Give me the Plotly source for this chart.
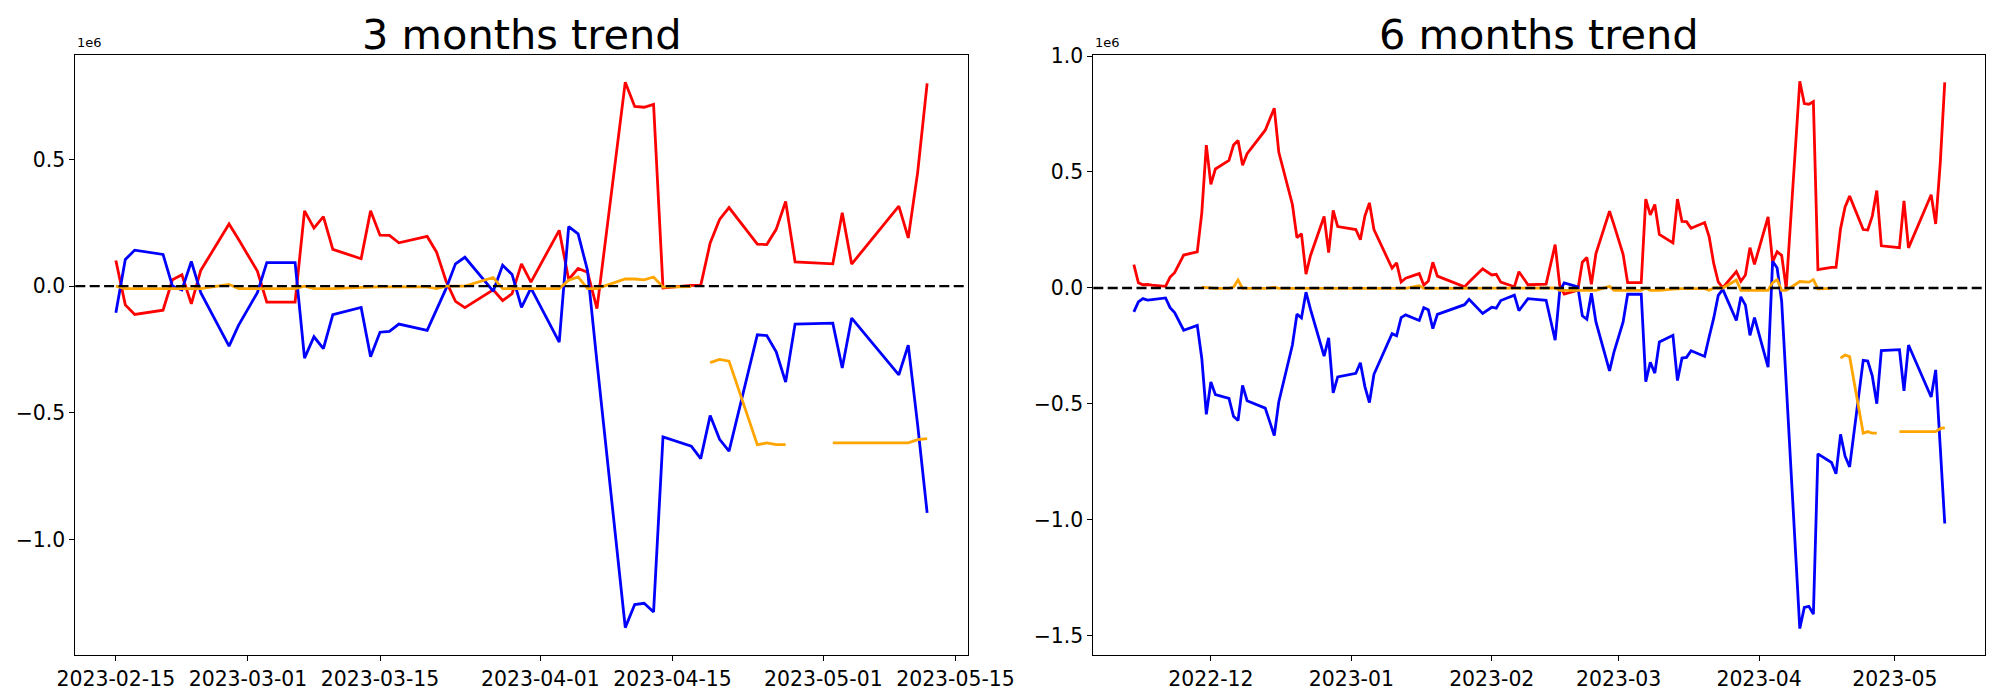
import plotly.graph_objects as go

# ---------------- data (values in units of 1e6) ----------------
dates_3m = ["2023-02-15", "2023-02-16", "2023-02-17", "2023-02-20", "2023-02-21", "2023-02-22", "2023-02-23", "2023-02-24",
            "2023-02-27", "2023-02-28",
            "2023-03-02", "2023-03-03",
            "2023-03-06", "2023-03-07", "2023-03-08", "2023-03-09", "2023-03-10",
            "2023-03-13", "2023-03-14", "2023-03-15", "2023-03-16", "2023-03-17",
            "2023-03-20", "2023-03-21", "2023-03-22", "2023-03-23", "2023-03-24",
            "2023-03-27", "2023-03-28", "2023-03-29", "2023-03-30", "2023-03-31",
            "2023-04-03", "2023-04-04", "2023-04-05", "2023-04-06", "2023-04-07",
            "2023-04-10", "2023-04-11", "2023-04-12", "2023-04-13", "2023-04-14",
            "2023-04-17", "2023-04-18", "2023-04-19", "2023-04-20", "2023-04-21",
            "2023-04-24", "2023-04-25", "2023-04-26", "2023-04-27", "2023-04-28",
            "2023-05-02", "2023-05-03", "2023-05-04",
            "2023-05-09", "2023-05-10", "2023-05-11", "2023-05-12"]

red_3m = [0.101, -0.074, -0.112, -0.095, 0.025, 0.045, -0.070, 0.062,
          0.245, 0.185,
          0.059, -0.063,
          -0.063, 0.297, 0.229, 0.274, 0.145,
          0.108, 0.297, 0.201, 0.200, 0.171,
          0.196, 0.134, 0.020, -0.060, -0.085,
          -0.015, -0.057, -0.030, 0.088, 0.016,
          0.220, 0.026, 0.070, 0.055, -0.089,
          0.805, 0.709, 0.706, 0.717, -0.007,
          0.003, 0.003, 0.170, 0.263, 0.310,
          0.166, 0.164, 0.224, 0.334, 0.096,
          0.088, 0.290, 0.087,
          0.316, 0.190, 0.450, 0.800]

blue_3m = [-0.105, 0.105, 0.142, 0.125, 0.000, -0.015, 0.097, -0.026,
           -0.237, -0.155,
           -0.026, 0.093,
           0.093, -0.284, -0.200, -0.247, -0.113,
           -0.084, -0.279, -0.182, -0.179, -0.150,
           -0.175, -0.090, -0.010, 0.088, 0.114,
           -0.020, 0.082, 0.046, -0.084, -0.008,
           -0.221, 0.235, 0.206, 0.062, -0.300,
           -1.348, -1.257, -1.252, -1.286, -0.595,
           -0.632, -0.681, -0.511, -0.605, -0.651,
           -0.192, -0.195, -0.259, -0.379, -0.150,
           -0.146, -0.323, -0.126,
           -0.350, -0.233, -0.550, -0.895]

orange_3m = [0.000, -0.010, -0.010, -0.010, -0.010, -0.010, -0.010, -0.010,
             0.007, -0.010,
             -0.010, -0.010,
             -0.010, 0.000, -0.010, -0.010, -0.010,
             -0.005, -0.003, -0.003, -0.003, -0.003,
             -0.003, -0.010, 0.000, 0.000, 0.000,
             0.034, -0.010, -0.010, -0.010, -0.010,
             -0.010, 0.023, 0.036, -0.010, -0.010,
             0.028, 0.028, 0.025, 0.036, -0.004,
             -0.002, None, -0.302, -0.289, -0.296,
             -0.626, -0.619, -0.626, -0.626, None,
             -0.619, -0.619, -0.619,
             -0.619, -0.619, -0.606, -0.602]

dates_6m = ["2022-11-14", "2022-11-15", "2022-11-16", "2022-11-17", "2022-11-18", "2022-11-21", "2022-11-22", "2022-11-23",
            "2022-11-25", "2022-11-28", "2022-11-29", "2022-11-30", "2022-12-01", "2022-12-02", "2022-12-05", "2022-12-06",
            "2022-12-07", "2022-12-08", "2022-12-09", "2022-12-13", "2022-12-15", "2022-12-16", "2022-12-19", "2022-12-20",
            "2022-12-21", "2022-12-22", "2022-12-23", "2022-12-26", "2022-12-27", "2022-12-28", "2022-12-29", "2023-01-02",
            "2023-01-03", "2023-01-04", "2023-01-05", "2023-01-06", "2023-01-10", "2023-01-11", "2023-01-12", "2023-01-13",
            "2023-01-16", "2023-01-17", "2023-01-18", "2023-01-19", "2023-01-20", "2023-01-26", "2023-01-27", "2023-01-30",
            "2023-02-01", "2023-02-02", "2023-02-03", "2023-02-06", "2023-02-07", "2023-02-09", "2023-02-13",
            "2023-02-15", "2023-02-16", "2023-02-17", "2023-02-20", "2023-02-21", "2023-02-22", "2023-02-23", "2023-02-24",
            "2023-02-27", "2023-02-28",
            "2023-03-02", "2023-03-03",
            "2023-03-06", "2023-03-07", "2023-03-08", "2023-03-09", "2023-03-10",
            "2023-03-13", "2023-03-14", "2023-03-15", "2023-03-16", "2023-03-17",
            "2023-03-20", "2023-03-21", "2023-03-22", "2023-03-23", "2023-03-24",
            "2023-03-27", "2023-03-28", "2023-03-29", "2023-03-30", "2023-03-31",
            "2023-04-03", "2023-04-04", "2023-04-05", "2023-04-06", "2023-04-07",
            "2023-04-10", "2023-04-11", "2023-04-12", "2023-04-13", "2023-04-14",
            "2023-04-17", "2023-04-18", "2023-04-19", "2023-04-20", "2023-04-21",
            "2023-04-24", "2023-04-25", "2023-04-26", "2023-04-27", "2023-04-28",
            "2023-05-02", "2023-05-03", "2023-05-04",
            "2023-05-09", "2023-05-10", "2023-05-11", "2023-05-12"]

red_6m = [0.101, 0.023, 0.014, 0.015, 0.012, 0.007, 0.047, 0.066,
          0.142, 0.156, 0.324, 0.616, 0.447, 0.513, 0.550, 0.616,
          0.636, 0.529, 0.579, 0.680, 0.775, 0.585, 0.360, 0.217,
          0.234, 0.060, 0.140, 0.308, 0.153, 0.334, 0.265, 0.252,
          0.208, 0.310, 0.367, 0.252, 0.085, 0.108, 0.026, 0.042,
          0.062, 0.012, 0.030, 0.111, 0.051, 0.005, 0.026, 0.083,
          0.056, 0.059, 0.025, 0.005, 0.070, 0.014, 0.017,
          0.187, 0.012, -0.026, -0.009, 0.111, 0.131, 0.016, 0.148,
          0.331, 0.271,
          0.145, 0.023,
          0.023, 0.383, 0.315, 0.360, 0.231,
          0.194, 0.383, 0.287, 0.286, 0.257,
          0.282, 0.220, 0.106, 0.026, 0.001,
          0.071, 0.029, 0.056, 0.174, 0.102,
          0.306, 0.112, 0.156, 0.141, -0.003,
          0.891, 0.795, 0.792, 0.803, 0.079,
          0.089, 0.089, 0.256, 0.349, 0.396,
          0.252, 0.250, 0.310, 0.420, 0.182,
          0.174, 0.376, 0.173,
          0.402, 0.276, 0.536, 0.886]

blue_6m = [-0.103, -0.060, -0.046, -0.052, -0.050, -0.043, -0.085, -0.106,
           -0.182, -0.161, -0.304, -0.545, -0.405, -0.460, -0.476, -0.553,
           -0.571, -0.420, -0.486, -0.518, -0.636, -0.490, -0.246, -0.113,
           -0.129, -0.018, -0.092, -0.294, -0.215, -0.452, -0.383, -0.368,
           -0.322, -0.425, -0.494, -0.372, -0.197, -0.206, -0.128, -0.116,
           -0.140, -0.085, -0.094, -0.175, -0.114, -0.072, -0.049, -0.110,
           -0.083, -0.087, -0.054, -0.031, -0.098, -0.046, -0.053,
           -0.225, -0.015, 0.022, 0.005, -0.120, -0.135, -0.023, -0.146,
           -0.357, -0.275,
           -0.146, -0.027,
           -0.027, -0.404, -0.320, -0.367, -0.233,
           -0.204, -0.399, -0.302, -0.299, -0.270,
           -0.295, -0.210, -0.130, -0.032, -0.006,
           -0.140, -0.038, -0.074, -0.204, -0.128,
           -0.341, 0.115, 0.086, -0.058, -0.420,
           -1.468, -1.377, -1.372, -1.406, -0.715,
           -0.752, -0.801, -0.631, -0.725, -0.771,
           -0.312, -0.315, -0.379, -0.499, -0.270,
           -0.266, -0.443, -0.246,
           -0.470, -0.353, -0.670, -1.015]

orange_6m = [None, None, None, None, None, None, None, None,
             None, None, 0.004, 0.002, -0.002, -0.002, -0.002, 0.004,
             0.034, -0.002, -0.002, -0.002, 0.003, -0.002, -0.002, -0.002,
             -0.002, -0.002, -0.002, -0.002, -0.002, -0.002, -0.002, -0.002,
             -0.002, -0.002, -0.002, -0.002, -0.002, -0.002, -0.002, -0.002,
             0.010, -0.002, -0.002, -0.002, -0.002, -0.002, -0.002, -0.002,
             -0.002, -0.002, -0.002, -0.002, -0.002, -0.002, -0.002,
             0.000, -0.010, -0.010, -0.010, -0.010, -0.010, -0.010, -0.010,
             0.007, -0.010,
             -0.010, -0.010,
             -0.010, 0.000, -0.010, -0.010, -0.010,
             -0.005, -0.003, -0.003, -0.003, -0.003,
             -0.003, -0.010, 0.000, 0.000, 0.000,
             0.034, -0.010, -0.010, -0.010, -0.010,
             -0.010, 0.023, 0.036, -0.010, -0.010,
             0.028, 0.028, 0.025, 0.036, -0.004,
             -0.002, None, -0.302, -0.289, -0.296,
             -0.626, -0.619, -0.626, -0.626, None,
             -0.619, -0.619, -0.619,
             -0.619, -0.619, -0.606, -0.602]

titles = ["3 months trend", "6 months trend"]

xticks_3m = ["2023-02-15", "2023-03-01", "2023-03-15", "2023-04-01", "2023-04-15", "2023-05-01", "2023-05-15"]
xticks_6m = ["2022-12-01", "2023-01-01", "2023-02-01", "2023-03-01", "2023-04-01", "2023-05-01"]
xticktext_6m = ["2022-12", "2023-01", "2023-02", "2023-03", "2023-04", "2023-05"]

yticks_3m = [-1.0, -0.5, 0.0, 0.5]
yticks_6m = [-1.5, -1.0, -0.5, 0.0, 0.5, 1.0]

# ---------------- figure ----------------
# The page body has an 8px margin, so the figure is drawn 8px in from the
# window corner; sizes/positions below are relative to that origin.
OFF = 8
W, H = 2000 - 2 * OFF, 700 - 2 * OFF
FONT = "DejaVu Sans"
LW = 2.8

def fmt(v):
    s = f"{v:.1f}"
    return s.replace("-", "\u2212")

fig = go.Figure()

series = [("red", "red"), ("blue", "blue"), ("orange", "orange")]
data3 = {"red": red_3m, "blue": blue_3m, "orange": orange_3m}
data6 = {"red": red_6m, "blue": blue_6m, "orange": orange_6m}

for name, col in series:
    fig.add_trace(go.Scatter(x=dates_3m, y=data3[name], mode="lines",
                             line=dict(color=col, width=LW), xaxis="x", yaxis="y",
                             showlegend=False, connectgaps=False))
for name, col in series:
    fig.add_trace(go.Scatter(x=dates_6m, y=data6[name], mode="lines",
                             line=dict(color=col, width=LW), xaxis="x2", yaxis="y2",
                             showlegend=False, connectgaps=False))

# axes positions (window pixels -> paper fractions)
L1, R1 = 75.3 - OFF, 967.7 - OFF
L2, R2 = 1093.3 - OFF, 1985.3 - OFF
TOP, BOT = 55.3 - OFF, 655.0 - OFF
ydom = [(H - BOT) / H, (H - TOP) / H]

common_axis = dict(showline=True, linecolor="black", linewidth=1.1, mirror=True,
                   ticks="outside", ticklen=5, tickwidth=1.1, tickcolor="black",
                   showgrid=False, zeroline=False, automargin=False,
                   tickfont=dict(family=FONT, size=20.4, color="black"))

fig.update_layout(
    width=W, height=H,
    margin=dict(l=0, r=0, t=0, b=0),
    paper_bgcolor="white", plot_bgcolor="white",
    font=dict(family=FONT, color="black"),
    xaxis=dict(domain=[L1 / W, R1 / W], anchor="y", type="date",
               range=["2023-02-10 16:48", "2023-05-16 07:12"],
               tickvals=xticks_3m, ticktext=xticks_3m, **common_axis),
    yaxis=dict(domain=ydom, anchor="x", range=[-1.456, 0.911],
               tickvals=yticks_3m, ticktext=[fmt(v) for v in yticks_3m], **common_axis),
    xaxis2=dict(domain=[L2 / W, R2 / W], anchor="y2", type="date",
                range=["2022-11-05 01:12", "2023-05-20 22:48"],
                tickvals=xticks_6m, ticktext=xticktext_6m, **common_axis),
    yaxis2=dict(domain=ydom, anchor="x2", range=[-1.582, 1.003],
                tickvals=yticks_6m, ticktext=[fmt(v) for v in yticks_6m], **common_axis),
)

# dashed zero lines (axhline)
for xr, yr in [("x domain", "y"), ("x2 domain", "y2")]:
    fig.add_shape(type="line", xref=xr, yref=yr, x0=0, x1=1, y0=0, y1=0,
                  line=dict(color="black", width=2.4, dash="10px,4.4px"))

# titles and offset labels
for t, (l, r) in zip(titles, [(L1, R1), (L2, R2)]):
    fig.add_annotation(text=t, xref="paper", yref="paper",
                       x=(l + r) / 2 / W, y=(H - (61 - OFF)) / H,
                       xanchor="center", yanchor="bottom", showarrow=False,
                       font=dict(family=FONT, size=41.5, color="black"))
    fig.add_annotation(text="1e6", xref="paper", yref="paper",
                       x=l / W, y=(H - (52.5 - OFF)) / H,
                       xanchor="left", yanchor="bottom", showarrow=False,
                       font=dict(family=FONT, size=13, color="black"))

fig.write_html("out.html")
